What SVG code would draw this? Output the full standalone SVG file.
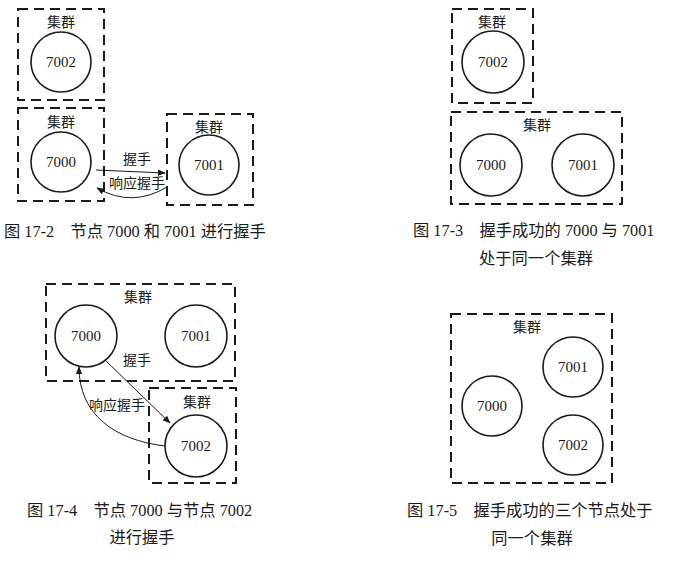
<svg xmlns="http://www.w3.org/2000/svg" width="673" height="561" viewBox="0 0 673 561">
<style>
.box{fill:none;stroke:#1a1a1a;stroke-width:2;stroke-dasharray:10 6}
.node{fill:#fff;stroke:#1a1a1a;stroke-width:1.6}
.lbl{font-family:"Liberation Serif","Noto Sans CJK SC",serif;font-size:15px;fill:#1a1a1a;text-anchor:middle}
.cjk{font-family:"Noto Sans CJK SC",sans-serif;font-size:14px;fill:#1a1a1a;text-anchor:middle}
.cap{font-family:"Liberation Serif","Noto Sans CJK SC",serif;font-size:16.3px;fill:#1a1a1a}
.edge{fill:none;stroke:#1a1a1a;stroke-width:1}
</style>
<defs>
<marker id="ah" viewBox="0 0 10 10" refX="9" refY="5" markerWidth="8" markerHeight="8" markerUnits="userSpaceOnUse" orient="auto">
<path d="M0,1 L10,5 L0,9 z" fill="#1a1a1a"/>
</marker>
</defs>
<rect width="673" height="561" fill="#fff"/>

<!-- Figure 17-2 -->
<g id="fig17-2">
<g id="f2-cluster-7002"><rect class="box" x="18" y="9" width="86" height="91"/><text class="cjk" x="61" y="27">集群</text></g>
<g id="f2-node-7002"><circle class="node" cx="61" cy="62" r="30"/><text class="lbl" x="61" y="67">7002</text></g>
<g id="f2-cluster-7000"><rect class="box" x="18" y="108" width="86" height="93"/><text class="cjk" x="61" y="127">集群</text></g>
<g id="f2-node-7000"><circle class="node" cx="61" cy="162" r="30"/><text class="lbl" x="61" y="167">7000</text></g>
<g id="f2-cluster-7001"><rect class="box" x="167" y="114" width="86" height="91"/><text class="cjk" x="209" y="132">集群</text></g>
<g id="f2-node-7001"><circle class="node" cx="209" cy="165" r="30"/><text class="lbl" x="209" y="170">7001</text></g>
<g id="f2-edges">
<path class="edge" d="M96,170 L165,173" marker-end="url(#ah)"/>
<text class="cjk" x="137" y="164">握手</text>
<path class="edge" d="M167,187 Q132,208 97,188" marker-end="url(#ah)"/>
<text class="cjk" x="137" y="188">响应握手</text>
</g>
<text class="cap" x="4" y="237">图 17-2　节点 7000 和 7001 进行握手</text>
</g>

<!-- Figure 17-3 -->
<g id="fig17-3">
<g id="f3-cluster-a"><rect class="box" x="452" y="9" width="81" height="94"/><text class="cjk" x="492" y="27">集群</text></g>
<g id="f3-node-7002"><circle class="node" cx="493" cy="62" r="31"/><text class="lbl" x="493" y="67">7002</text></g>
<g id="f3-cluster-b"><rect class="box" x="451" y="112" width="171" height="92"/><text class="cjk" x="537" y="130">集群</text></g>
<g id="f3-node-7000"><circle class="node" cx="491" cy="165" r="31"/><text class="lbl" x="491" y="170">7000</text></g>
<g id="f3-node-7001"><circle class="node" cx="583" cy="165" r="31"/><text class="lbl" x="583" y="170">7001</text></g>
<text class="cap" x="413" y="236">图 17-3　握手成功的 7000 与 7001</text>
<text class="cap" x="536" y="264" text-anchor="middle">处于同一个集群</text>
</g>

<!-- Figure 17-4 -->
<g id="fig17-4">
<g id="f4-cluster-a"><rect class="box" x="46" y="284" width="189" height="97"/><text class="cjk" x="138" y="302">集群</text></g>
<g id="f4-node-7000"><circle class="node" cx="86" cy="336" r="31"/><text class="lbl" x="86" y="341">7000</text></g>
<g id="f4-node-7001"><circle class="node" cx="196" cy="336" r="31"/><text class="lbl" x="196" y="341">7001</text></g>
<g id="f4-cluster-b"><rect class="box" x="149" y="388" width="87" height="95"/><text class="cjk" x="197" y="407">集群</text></g>
<g id="f4-node-7002"><circle class="node" cx="196" cy="446" r="31"/><text class="lbl" x="196" y="451">7002</text></g>
<g id="f4-edges">
<path class="edge" d="M105,360 L170,423" marker-end="url(#ah)"/>
<text class="cjk" x="137" y="365">握手</text>
<path class="edge" d="M165,446 C115,440 79,415 79,367" marker-end="url(#ah)"/>
<text class="cjk" x="117" y="410">响应握手</text>
</g>
<text class="cap" x="27" y="516">图 17-4　节点 7000 与节点 7002</text>
<text class="cap" x="142" y="543" text-anchor="middle">进行握手</text>
</g>

<!-- Figure 17-5 -->
<g id="fig17-5">
<g id="f5-cluster"><rect class="box" x="451" y="314" width="161" height="169"/><text class="cjk" x="527" y="332">集群</text></g>
<g id="f5-node-7000"><circle class="node" cx="492" cy="406" r="30"/><text class="lbl" x="492" y="411">7000</text></g>
<g id="f5-node-7001"><circle class="node" cx="573" cy="367" r="30"/><text class="lbl" x="573" y="372">7001</text></g>
<g id="f5-node-7002"><circle class="node" cx="573" cy="445" r="30"/><text class="lbl" x="573" y="450">7002</text></g>
<text class="cap" x="407" y="516">图 17-5　握手成功的三个节点处于</text>
<text class="cap" x="532" y="544" text-anchor="middle">同一个集群</text>
</g>
</svg>
